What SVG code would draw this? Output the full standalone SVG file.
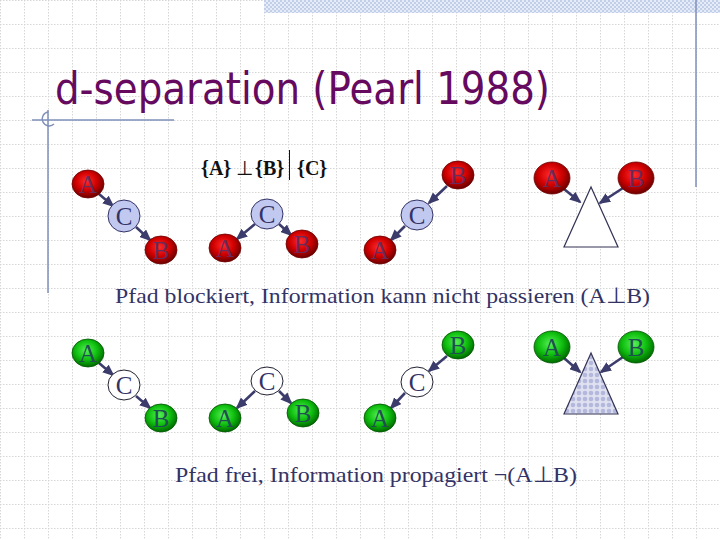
<svg xmlns="http://www.w3.org/2000/svg" width="720" height="540" viewBox="0 0 720 540">
<defs>
<style>
.rule{stroke:#7f8fb8;stroke-width:1.5;fill:none}
.red{fill:url(#gRed);stroke:#700000;stroke-width:0.8}
.grn{fill:url(#gGrn);stroke:#005500;stroke-width:0.8}
.cb{fill:#c2c9f0;stroke:#333366;stroke-width:1}
.cw{fill:#ffffff;stroke:#222233;stroke-width:1}
.lr{font-family:"Liberation Serif","Times New Roman",serif;font-size:25px;fill:#6a2a5a;text-anchor:middle}
.lg{font-family:"Liberation Serif","Times New Roman",serif;font-size:25px;fill:#1f5050;text-anchor:middle}
.lc{font-family:"Liberation Serif","Times New Roman",serif;font-size:25px;fill:#333366;text-anchor:middle}
.cap{font-family:"Liberation Serif","Times New Roman",serif;font-size:22px;fill:#333366}
.edge line{stroke:#3c3c6c;stroke-width:2.6;marker-end:url(#ah)}
.tri{stroke:#333355;stroke-width:1.2}
</style>
<pattern id="grid" width="24" height="24" patternUnits="userSpaceOnUse">
<path d="M0 0.5H24M0.5 0V24" stroke="#d6d6d6" stroke-width="1" stroke-dasharray="1.5 1.5" fill="none"/>
</pattern>
<pattern id="check" width="4" height="4" patternUnits="userSpaceOnUse">
<rect width="4" height="4" fill="#e6ecf7"/>
<rect width="2" height="2" fill="#c2cfe9"/>
<rect x="2" y="2" width="2" height="2" fill="#c2cfe9"/>
</pattern>
<pattern id="dots" width="6" height="6" patternUnits="userSpaceOnUse">
<rect width="6" height="6" fill="#dfe1f1"/>
<circle cx="3" cy="3" r="2.3" fill="#b3b8dc"/>
</pattern>
<radialGradient id="gRed" cx="45%" cy="40%" r="60%">
<stop offset="0" stop-color="#ff2a2a"/>
<stop offset="0.55" stop-color="#d00000"/>
<stop offset="1" stop-color="#6a0000"/>
</radialGradient>
<radialGradient id="gGrn" cx="45%" cy="40%" r="60%">
<stop offset="0" stop-color="#55f055"/>
<stop offset="0.55" stop-color="#10c010"/>
<stop offset="1" stop-color="#006a00"/>
</radialGradient>
<marker id="ah" markerUnits="userSpaceOnUse" markerWidth="12" markerHeight="10" viewBox="0 0 12 10" refX="10" refY="5" orient="auto">
<path d="M0 0L12 5L0 10z" fill="#3c3c6c"/>
</marker>
</defs>
<rect width="720" height="540" fill="#ffffff"/>
<rect width="720" height="540" fill="url(#grid)"/>
<rect x="264" y="0" width="456" height="13" fill="url(#check)"/>
<g id="decor">
<line class="rule" x1="696" y1="0" x2="696" y2="187"/>
<line class="rule" x1="32" y1="120" x2="174" y2="120"/>
<line class="rule" x1="48" y1="110" x2="48" y2="293"/>
<path class="rule" d="M48 112A7 7 0 1 0 54 124" stroke-width="1"/>
</g>
<text id="title" x="55" y="104" font-family="'DejaVu Sans',Verdana,sans-serif" font-size="44" fill="#660a60" textLength="495" lengthAdjust="spacingAndGlyphs">d-separation (Pearl 1988)</text>
<g id="formula" font-family="'Liberation Serif','Times New Roman',serif" fill="#111111">
<text x="201" y="175" font-size="20" font-weight="bold">{A}</text>
<text x="236" y="175" font-size="20">⊥</text>
<text x="255" y="175" font-size="20" font-weight="bold">{B}</text>
<line x1="289.5" y1="150" x2="289.5" y2="180" stroke="#111111" stroke-width="1"/>
<text x="297" y="175" font-size="20" font-weight="bold">{C}</text>
</g>
<g id="connectors" class="edge">
<line x1="99" y1="194" x2="113" y2="206"/>
<line x1="136" y1="227" x2="150" y2="240"/>
<line x1="255" y1="224" x2="237" y2="239"/>
<line x1="279" y1="224" x2="291" y2="235"/>
<line x1="447" y1="186" x2="429" y2="203"/>
<line x1="405" y1="226" x2="391" y2="240"/>
<line x1="564" y1="189" x2="580" y2="202"/>
<line x1="623" y1="188" x2="600" y2="203"/>
<line x1="99" y1="363" x2="113" y2="375"/>
<line x1="136" y1="396" x2="150" y2="408"/>
<line x1="255" y1="391" x2="237" y2="408"/>
<line x1="279" y1="391" x2="291" y2="403"/>
<line x1="447" y1="356" x2="429" y2="371"/>
<line x1="405" y1="393" x2="391" y2="408"/>
<line x1="564" y1="358" x2="580" y2="372"/>
<line x1="623" y1="357" x2="601" y2="372"/>
</g>
<g id="top1">
<g id="t1A"><ellipse class="red" cx="88" cy="184" rx="16" ry="14"/><text class="lr" x="88" y="193">A</text></g>
<g id="t1C"><ellipse class="cb" cx="124" cy="216" rx="16" ry="16"/><text class="lc" x="124" y="225">C</text></g>
<g id="t1B"><ellipse class="red" cx="161" cy="250" rx="16" ry="14"/><text class="lr" x="161" y="259">B</text></g>
</g>
<g id="top2">
<g id="t2C"><ellipse class="cb" cx="267" cy="214" rx="16" ry="15"/><text class="lc" x="267" y="223">C</text></g>
<g id="t2A"><ellipse class="red" cx="225" cy="248" rx="16" ry="14"/><text class="lr" x="225" y="257">A</text></g>
<g id="t2B"><ellipse class="red" cx="302" cy="244" rx="16" ry="14"/><text class="lr" x="302" y="253">B</text></g>
</g>
<g id="top3">
<g id="t3B"><ellipse class="red" cx="458" cy="175" rx="16" ry="14"/><text class="lr" x="458" y="184">B</text></g>
<g id="t3C"><ellipse class="cb" cx="417" cy="215" rx="16" ry="15"/><text class="lc" x="417" y="224">C</text></g>
<g id="t3A"><ellipse class="red" cx="380" cy="250" rx="16" ry="14"/><text class="lr" x="380" y="259">A</text></g>
</g>
<g id="top4">
<g id="t4A"><ellipse class="red" cx="552" cy="178" rx="18" ry="16"/><text class="lr" x="552" y="187">A</text></g>
<g id="t4B"><ellipse class="red" cx="636" cy="178" rx="18" ry="16"/><text class="lr" x="636" y="187">B</text></g>
<g id="t4T"><polygon class="tri" points="591,187 564,247 618,247" fill="#ffffff"/></g>
</g>
<text id="cap1" class="cap" x="115" y="303" textLength="535" lengthAdjust="spacingAndGlyphs">Pfad blockiert, Information kann nicht passieren (A⊥B)</text>
<g id="bot1">
<g id="b1A"><ellipse class="grn" cx="88" cy="353" rx="16" ry="14"/><text class="lg" x="88" y="362">A</text></g>
<g id="b1C"><ellipse class="cw" cx="124" cy="385" rx="16" ry="15"/><text class="lc" x="124" y="394">C</text></g>
<g id="b1B"><ellipse class="grn" cx="161" cy="418" rx="16" ry="14"/><text class="lg" x="161" y="427">B</text></g>
</g>
<g id="bot2">
<g id="b2C"><ellipse class="cw" cx="267" cy="381" rx="16" ry="14"/><text class="lc" x="267" y="390">C</text></g>
<g id="b2A"><ellipse class="grn" cx="225" cy="418" rx="16" ry="14"/><text class="lg" x="225" y="427">A</text></g>
<g id="b2B"><ellipse class="grn" cx="303" cy="413" rx="16" ry="14"/><text class="lg" x="303" y="422">B</text></g>
</g>
<g id="bot3">
<g id="b3B"><ellipse class="grn" cx="458" cy="345" rx="16" ry="14"/><text class="lg" x="458" y="354">B</text></g>
<g id="b3C"><ellipse class="cw" cx="417" cy="382" rx="16" ry="15"/><text class="lc" x="417" y="391">C</text></g>
<g id="b3A"><ellipse class="grn" cx="380" cy="418" rx="16" ry="14"/><text class="lg" x="380" y="427">A</text></g>
</g>
<g id="bot4">
<g id="b4A"><ellipse class="grn" cx="552" cy="347" rx="18" ry="16"/><text class="lg" x="552" y="356">A</text></g>
<g id="b4B"><ellipse class="grn" cx="636" cy="347" rx="18" ry="16"/><text class="lg" x="636" y="356">B</text></g>
<g id="b4T"><polygon class="tri" points="591,353 564,414 618,414" fill="url(#dots)"/></g>
</g>
<text id="cap2" class="cap" x="175" y="482" textLength="402" lengthAdjust="spacingAndGlyphs">Pfad frei, Information propagiert ¬(A⊥B)</text>
</svg>
